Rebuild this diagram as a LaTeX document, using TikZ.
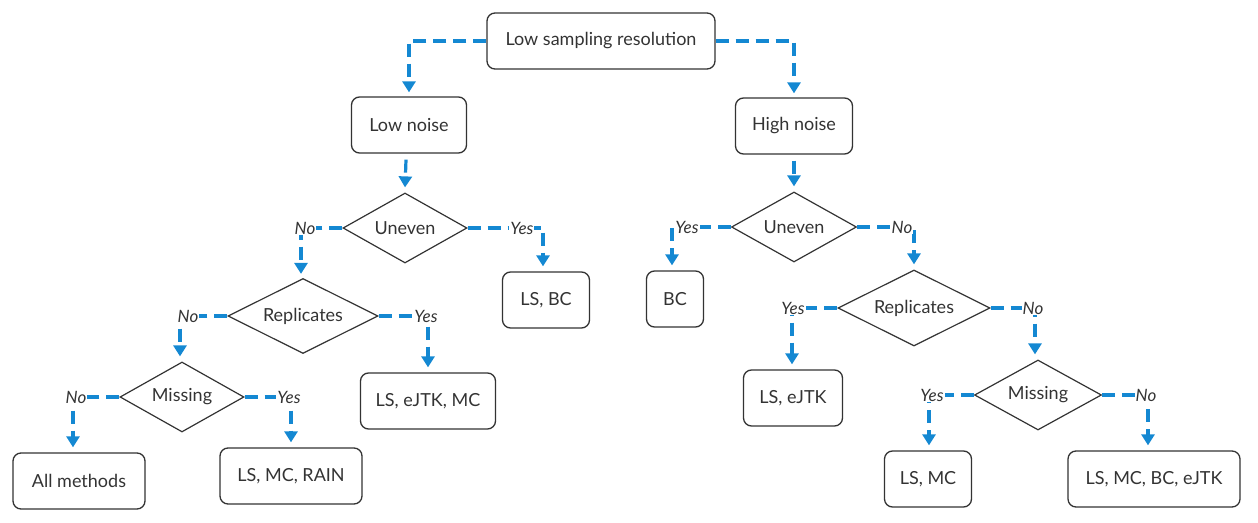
\documentclass[tikz,border=0pt]{standalone}
\usepackage{fontspec}
\setmainfont{Lato}
\usetikzlibrary{shapes.geometric,arrows.meta}

\definecolor{linkblue}{RGB}{20,136,210}
\definecolor{inkgray}{RGB}{51,51,51}

\tikzset{
  result/.style={draw=inkgray, line width=1.3pt, rounded corners=8pt,
    text=inkgray, minimum height=56pt, inner sep=0pt, font=\fontsize{18}{21}\selectfont},
  query/.style={diamond, draw=inkgray, line width=1.2pt, text=inkgray,
    inner sep=0pt, aspect=2, font=\fontsize{18}{21}\selectfont},
  link/.style={linkblue, line width=3.2pt, dash pattern=on 13pt off 7pt,
    -{Triangle[width=13pt,length=11pt]}},
  answer/.style={fill=white, text=inkgray, inner sep=1pt,
    font=\itshape\fontsize{17}{20}\selectfont}
}

\begin{document}
\begin{tikzpicture}[x=1pt,y=1pt]
  \useasboundingbox (0,0) rectangle (1258,522);
  % boxes
  \node [result, minimum width=228pt] (root) at (601,481) {Low sampling resolution};
  \node [result, minimum width=115pt] (lown) at (409,397) {Low noise};
  \node [result, minimum width=117pt] (highn) at (794,396) {High noise};
  \node [result, minimum width=87pt]  (lsbc) at (546,222) {LS, BC};
  \node [result, minimum width=135pt] (lsejmc) at (428,121) {LS, eJTK, MC};
  \node [result, minimum width=132pt] (allm) at (79,41) {All methods};
  \node [result, minimum width=142pt] (lsmcrain) at (291,46) {LS, MC, RAIN};
  \node [result, minimum width=57pt]  (bc) at (675,223) {BC};
  \node [result, minimum width=99pt]  (lsej) at (793,124) {LS, eJTK};
  \node [result, minimum width=87pt]  (lsmc) at (928,43) {LS, MC};
  \node [result, minimum width=172pt] (lsall) at (1154,43) {LS, MC, BC, eJTK};
  % questions
  \node [query, minimum width=124pt, minimum height=70pt] (unevl) at (405,294) {Uneven};
  \node [query, minimum width=150pt, minimum height=75pt] (repl) at (303,206) {Replicates};
  \node [query, minimum width=124pt, minimum height=70pt] (missl) at (182,125) {Missing};
  \node [query, minimum width=125pt, minimum height=70pt] (unevr) at (794,295) {Uneven};
  \node [query, minimum width=152pt, minimum height=76pt] (repr) at (914,214) {Replicates};
  \node [query, minimum width=127pt, minimum height=70pt] (missr) at (1038,127) {Missing};
  % links
  \draw [link] (root.west) -| ([yshift=4pt]lown.north);
  \draw [link] (root.east) -| ([yshift=4pt]highn.north);
  \draw [link] ([xshift=-3pt,yshift=-6pt]lown.south) -- ([yshift=5pt]unevl.north);
  \draw [link] ([yshift=-6pt]highn.south) -- ([yshift=5pt]unevr.north);
  \draw [link] (unevl.west) -| ([xshift=-2pt,yshift=4pt]repl.north)
    node [answer, pos=0.5, xshift=4pt] {No};
  \draw [link] (unevl.east) -| ([xshift=-3pt,yshift=5pt]lsbc.north)
    node [answer, pos=0.36] {Yes};
  \draw [link] (repl.west) -| ([xshift=-2pt,yshift=5pt]missl.north)
    node [answer, pos=0.5, xshift=8pt] {No};
  \draw [link] (repl.east) -| ([yshift=5pt]lsejmc.north)
    node [answer, pos=0.5, xshift=-2pt] {Yes};
  \draw [link] (missl.west) -| ([xshift=-6pt,yshift=5pt]allm.north)
    node [answer, pos=0.5, xshift=3pt] {No};
  \draw [link] (missl.east) -| ([yshift=5pt]lsmcrain.north)
    node [answer, pos=0.5, xshift=-2pt] {Yes};
  \draw [link] (unevr.west) -| ([xshift=-3pt,yshift=5pt]bc.north)
    node [answer, pos=0.5, xshift=15pt] {Yes};
  \draw [link] (unevr.east) -| ([yshift=5pt]repr.north)
    node [answer, pos=0.5, xshift=-12pt] {No};
  \draw [link] (repr.west) -| ([xshift=-1pt,yshift=5pt]lsej.north)
    node [answer, pos=0.5, xshift=1pt] {Yes};
  \draw [link] (repr.east) -| ([xshift=-3pt,yshift=5pt]missr.north)
    node [answer, pos=0.5, xshift=-2pt] {No};
  \draw [link] (missr.west) -| ([xshift=1pt,yshift=5pt]lsmc.north)
    node [answer, pos=0.5, xshift=3pt] {Yes};
  \draw [link] (missr.east) -| ([xshift=-6pt,yshift=5pt]lsall.north)
    node [answer, pos=0.5, xshift=-2pt] {No};
\end{tikzpicture}
\end{document}
